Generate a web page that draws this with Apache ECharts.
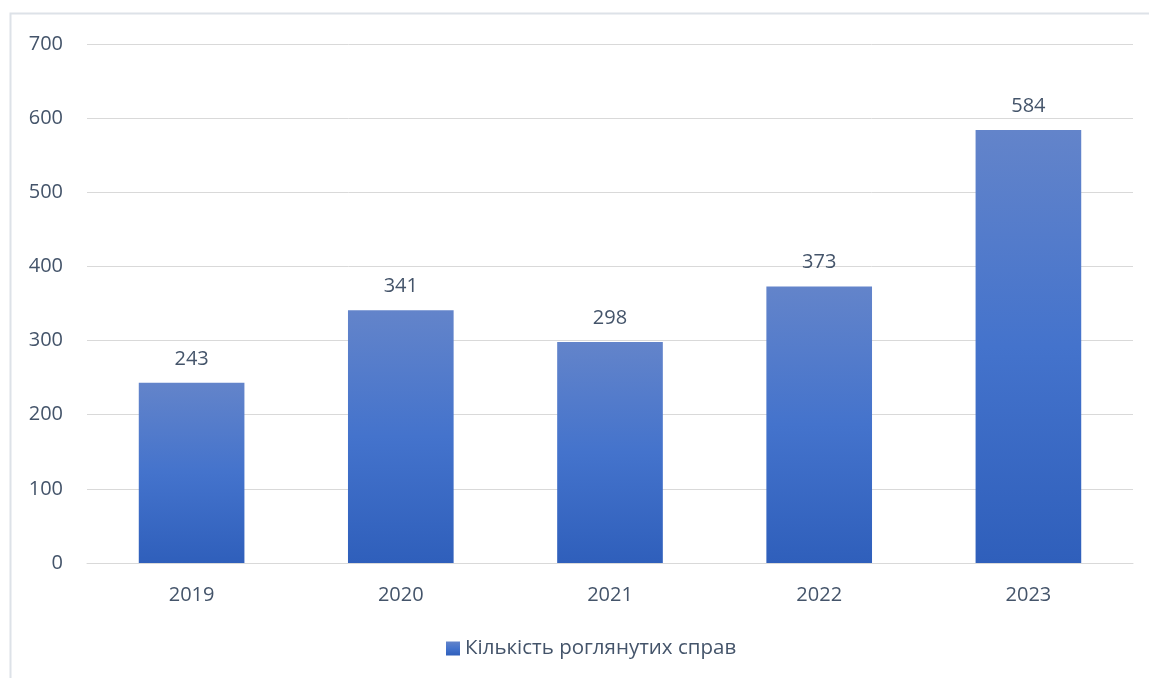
<!DOCTYPE html>
<html>
<head>
<meta charset="utf-8">
<script src="https://cdn.jsdelivr.net/npm/echarts@6/dist/echarts.min.js"></script>
<style>
html,body{margin:0;padding:0;background:#fff;}
#chart{width:1149px;height:678px;}
</style>
</head>
<body>
<div id="chart"></div>
<script>
const categories = ['2019', '2020', '2021', '2022', '2023'];
const values = [243, 341, 298, 373, 584];
const seriesName = 'Кількість роглянутих справ';
const yTicks = { min: 0, max: 700, interval: 100 };

const textColor = '#44546a';
const fontFamily = '"Open Sans", Lato, sans-serif';
const barGradient = new echarts.graphic.LinearGradient(0, 0, 0, 1, [
  { offset: 0, color: '#6384ca' },
  { offset: 0.5, color: '#4473cc' },
  { offset: 1, color: '#2f5fbb' }
]);

const chart = echarts.init(document.getElementById('chart'), null, { renderer: 'canvas' });
chart.setOption({
  backgroundColor: '#ffffff',
  animation: false,
  graphic: [{
    type: 'rect',
    shape: { x: 10.5, y: 13.5, width: 1200, height: 700 },
    style: { fill: 'none', stroke: '#dde2e8', lineWidth: 2 },
    silent: true,
    z: -1
  }],
  grid: { left: 87, right: 16, top: 44, bottom: 115, containLabel: false },
  legend: {
    top: 633,
    left: 441,
    itemWidth: 14,
    itemHeight: 14,
    itemGap: 2,
    icon: 'rect',
    textStyle: { color: textColor, fontSize: 20.5, fontFamily: fontFamily },
    data: [seriesName]
  },
  xAxis: {
    type: 'category',
    data: categories,
    axisLine: { show: true, lineStyle: { color: '#d9d9d9', width: 1 } },
    axisTick: { show: false },
    axisLabel: { color: textColor, fontSize: 20, fontFamily: fontFamily, margin: 22 }
  },
  yAxis: {
    type: 'value',
    min: yTicks.min,
    max: yTicks.max,
    interval: yTicks.interval,
    axisLine: { show: false },
    axisTick: { show: false },
    splitLine: { lineStyle: { color: '#d9d9d9', width: 1 } },
    axisLabel: { color: textColor, fontSize: 20, fontFamily: fontFamily, margin: 24 }
  },
  series: [{
    name: seriesName,
    type: 'bar',
    data: values,
    barWidth: '50.5%',
    itemStyle: { color: barGradient },
    label: {
      show: true,
      position: 'top',
      distance: 14,
      color: textColor,
      fontSize: 20,
      fontFamily: fontFamily
    }
  }]
});
</script>
</body>
</html>
